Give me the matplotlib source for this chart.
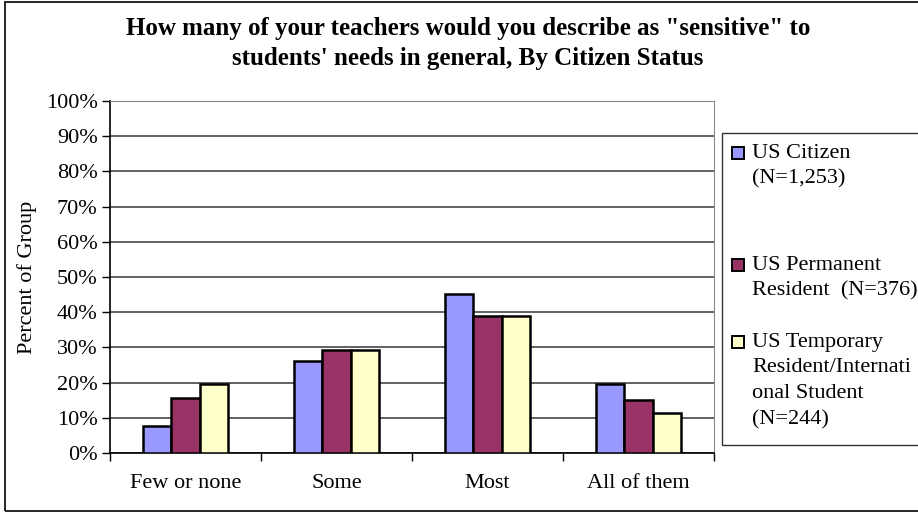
import numpy as np
import matplotlib.pyplot as plt
from matplotlib.patches import Rectangle

# Survey data: share of each group by answer
categories = ["Few or none", "Some", "Most", "All of them"]
groups = ["US Citizen\n(N=1,253)",
          "US Permanent\nResident  (N=376)",
          "US Temporary\nResident/Internati\nonal Student\n(N=244)"]
us_citizen = [7.8, 26.1, 45.3, 19.7]
permanent = [15.7, 29.4, 39.0, 15.1]
temporary = [19.7, 29.4, 39.0, 11.3]
colors = ["#9999FF", "#993366", "#FFFFCC"]

W, H = 918, 514
plt.rcParams['font.family'] = ['Liberation Serif', 'DejaVu Serif']

fig = plt.figure(figsize=(W / 100, H / 100), dpi=100)

def fx(x): return x / W
def fy(y): return 1 - y / H

# outer frame
fig.patches.append(Rectangle((fx(5), fy(511)), fx(930), (511 - 2) / H,
                             transform=fig.transFigure, fill=False,
                             edgecolor='black', lw=1.2))

ax = fig.add_axes([fx(110), fy(453), (714 - 110) / W, (453 - 101) / H])

series = [us_citizen, permanent, temporary]
x = np.arange(len(categories))
bw = 0.187
for i, (vals, c) in enumerate(zip(series, colors)):
    ax.bar(x + (i - 1) * bw, vals, width=bw, color=c, edgecolor='black',
           linewidth=1.8, zorder=3)

ax.set_xlim(-0.5, len(categories) - 0.5)
ax.set_ylim(0, 100)
ax.set_yticks(np.arange(0, 101, 10))
ax.set_yticklabels([f"{v}%" for v in range(0, 101, 10)], fontsize=16)
ax.set_xticks(np.arange(-0.5, len(categories), 1))
ax.set_xticklabels([])
ax.set_xticks(x, minor=True)
ax.set_xticklabels(categories, minor=True, fontsize=16)
ax.tick_params(axis='x', which='minor', length=0, pad=15)
ax.tick_params(axis='x', which='major', length=6, direction='out', width=1)
ax.tick_params(axis='y', length=6, direction='out', width=1, pad=3)
ax.yaxis.grid(True, color='#555555', lw=1.3, zorder=0)
ax.set_axisbelow(True)
for s in ['top', 'right']:
    ax.spines[s].set_color('#888888')
ax.spines['left'].set_linewidth(1.2)
ax.spines['bottom'].set_linewidth(1.2)
ax.set_ylabel("Percent of Group", fontsize=16, labelpad=6)

fig.text(fx(468), fy(28), 'How many of your teachers would you describe as "sensitive" to',
         ha='center', va='center', fontsize=18, fontweight='bold')
fig.text(fx(468), fy(59), "students' needs in general, By Citizen Status",
         ha='center', va='center', fontsize=18, fontweight='bold')

# legend box, running past the right edge
fig.patches.append(Rectangle((fx(722), fy(445)), fx(300), (445 - 133) / H,
                             transform=fig.transFigure, fill=False,
                             edgecolor='#333333', lw=1.0))
line_h = 26
starts = [153, 265, 342]
for lab, c, y0 in zip(groups, colors, starts):
    fig.patches.append(Rectangle((fx(732), fy(y0 + 6)), fx(12), 12 / H,
                                 transform=fig.transFigure, facecolor=c,
                                 edgecolor='black', lw=1.4))
    for k, ln in enumerate(lab.split("\n")):
        fig.text(fx(752), fy(y0 + k * line_h), ln, ha='left', va='center',
                 fontsize=16)

fig.savefig("out.png", dpi=100)
